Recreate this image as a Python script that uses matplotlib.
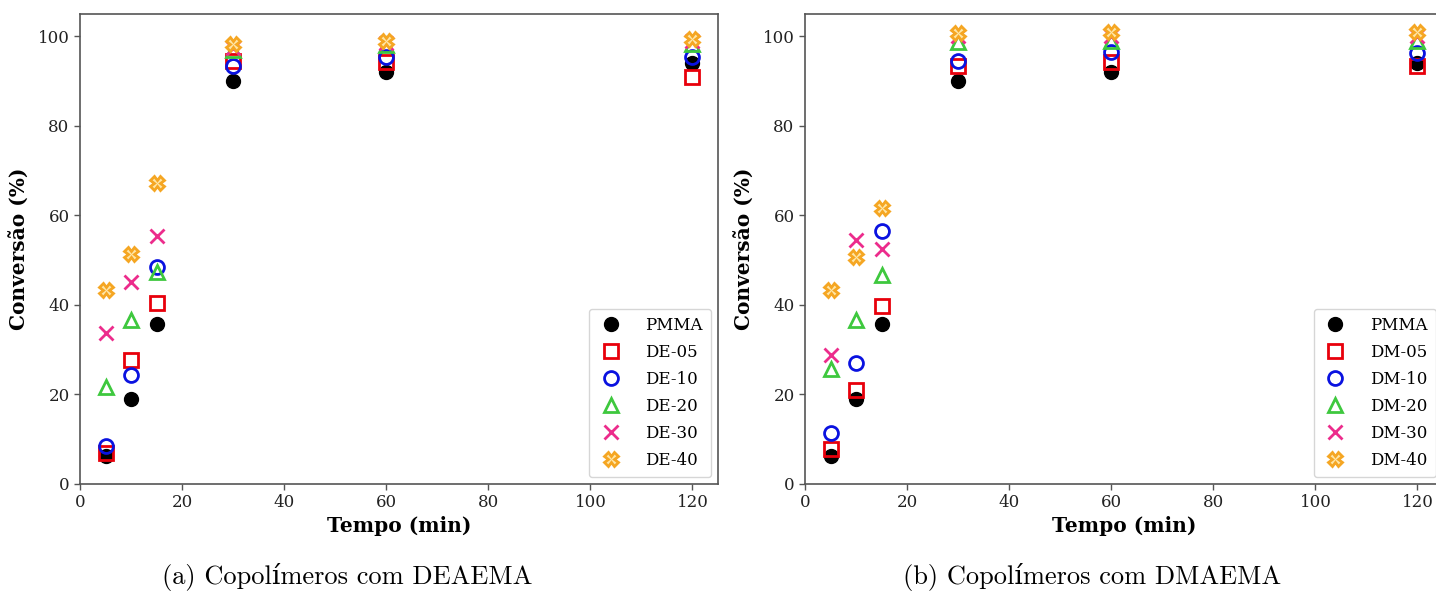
import matplotlib
matplotlib.use("Agg")
import matplotlib.pyplot as plt

# ---- data ----
tempo = [5, 10, 15, 30, 60, 120]

pmma = [6.3, 19.0, 35.7, 90.0, 92.0, 94.0]

labels_de = ["DE-05", "DE-10", "DE-20", "DE-30", "DE-40"]
de05 = [7.0, 27.6, 40.5, 94.5, 94.3, 91.0]
de10 = [8.6, 24.4, 48.5, 93.4, 95.3, 95.3]
de20 = [21.7, 36.6, 47.4, 97.0, 98.0, 98.3]
de30 = [33.7, 45.1, 55.4, 97.5, 98.5, 99.0]
de40 = [43.4, 51.4, 67.2, 98.2, 98.9, 99.4]

labels_dm = ["DM-05", "DM-10", "DM-20", "DM-30", "DM-40"]
dm05 = [7.8, 21.1, 39.7, 93.4, 94.3, 93.4]
dm10 = [11.3, 27.0, 56.5, 94.4, 96.5, 96.2]
dm20 = [25.6, 36.6, 46.8, 98.8, 99.0, 99.0]
dm30 = [28.9, 54.5, 52.6, 100.0, 100.0, 100.0]
dm40 = [43.4, 50.7, 61.6, 100.8, 101.0, 101.0]

captions = ["(a) Copolímeros com DEAEMA", "(b) Copolímeros com DMAEMA"]

# ---- styles ----
styles = [
    dict(marker='s', mfc='none', mec='#e8000b', color='#e8000b'),
    dict(marker='o', mfc='none', mec='#0a12e0', color='#0a12e0'),
    dict(marker='^', mfc='none', mec='#3ec83e', color='#3ec83e'),
    dict(marker='x', mfc='none', mec='#ec2c8c', color='#ec2c8c'),
    dict(marker='X', mfc='#ffe7a8', mec='#f5a623', color='#f5a623'),
]

fig = plt.figure(figsize=(14.36, 5.91), dpi=100)
W, H = 1436, 591

def make_ax(left_px):
    return fig.add_axes([left_px / W, (H - 484) / H, 638 / W, 470 / H])

panels = [
    (make_ax(80), labels_de, [de05, de10, de20, de30, de40], 347),
    (make_ax(805), labels_dm, [dm05, dm10, dm20, dm30, dm40], 1092),
]

serif = ['DejaVu Serif']
for i, (ax, labs, series, cx) in enumerate(panels):
    ax.plot(tempo, pmma, linestyle='none', marker='o', color='black',
            markersize=10, label='PMMA')
    for lab, vals, st in zip(labs, series, styles):
        ax.plot(tempo, vals, linestyle='none', markersize=10, mew=2,
                label=lab, **st)
    ax.set_xlim(0, 125)
    ax.set_ylim(0, 105)
    ax.set_xticks([0, 20, 40, 60, 80, 100, 120])
    ax.set_yticks([0, 20, 40, 60, 80, 100])
    for t in ax.get_xticklabels() + ax.get_yticklabels():
        t.set_fontfamily(serif)
        t.set_fontsize(12)
        t.set_color('#222222')
    ax.tick_params(length=4, width=1, color='#555555')
    for sp in ax.spines.values():
        sp.set_color('#555555')
        sp.set_linewidth(1.2)
    ax.set_xlabel('Tempo (min)', fontfamily=serif, fontweight='bold',
                  fontsize=14.5, labelpad=3)
    ax.set_ylabel('Conversão (%)', fontfamily=serif, fontweight='bold',
                  fontsize=14.5, labelpad=6)
    leg = ax.legend(loc='lower right', prop={'family': serif, 'size': 12},
                    frameon=True, handletextpad=1.3, labelspacing=0.6,
                    borderpad=0.5, handlelength=1.6, borderaxespad=0.4)
    leg.get_frame().set_edgecolor('#cccccc')
    fig.text(cx / W, 1 - 577 / H, captions[i], ha='center', va='center',
             fontsize=19, family=['cmr10', 'DejaVu Serif'])

fig.savefig('out.png', dpi=100)
